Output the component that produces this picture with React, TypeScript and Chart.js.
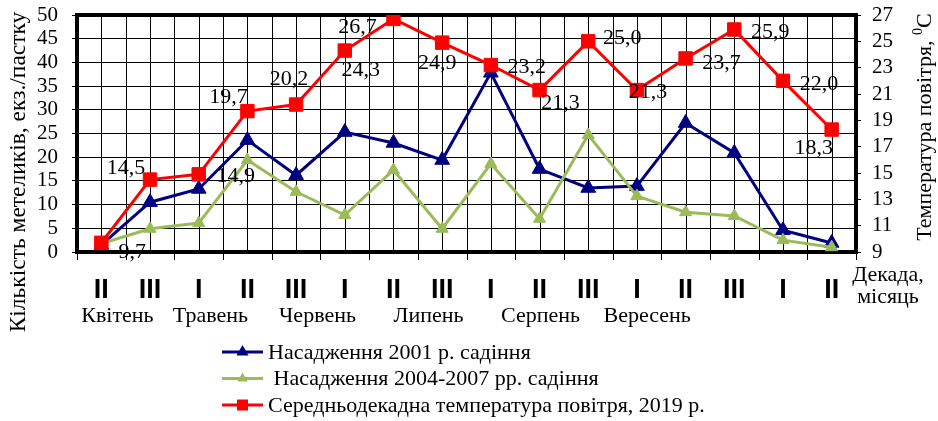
import React, { useEffect, useRef } from 'react';
import { Chart, registerables } from 'chart.js';

Chart.register(...registerables);

const decades = ['II', 'III', 'I', 'II', 'III', 'I', 'II', 'III', 'I', 'II', 'III', 'I', 'II', 'III', 'I', 'II'];
const months = ['Квітень', 'Травень', 'Червень', 'Липень', 'Серпень', 'Вересень'];
const monthPositions = [0.33, 2.24, 4.44, 6.72, 9.02, 11.21];

const plant2001 = [1.5, 10.5, 13.3, 23.6, 16.2, 25.3, 23.0, 19.4, 37.8, 17.5, 13.5, 13.9, 27.2, 20.9, 4.6, 1.9];
const plant2004 = [1.8, 4.9, 6.1, 19.4, 12.7, 7.8, 17.3, 4.9, 18.6, 7.0, 24.7, 11.8, 8.4, 7.6, 2.5, 1.0];
const temperature = [9.7, 14.5, 14.9, 19.7, 20.2, 24.3, 26.7, 24.9, 23.2, 21.3, 25.0, 21.3, 23.7, 25.9, 22.0, 18.3];

const seriesNames = [
  'Насадження 2001 р. садіння',
  ' Насадження 2004-2007 рр. садіння',
  'Середньодекадна температура повітря, 2019 р.',
];
const leftTitle = 'Кількість метеликів, екз./пастку';
const rightTitle = 'Температура повітря, ';
const xTitle = ['Декада,', 'місяць'];

// label placement offsets (px) relative to each temperature point
const tempLabelOffsets = [
  [31, 9], [-24, -11], [37, 2], [-19, -14], [-7, -25], [16, 20], [-36, 8], [-5, 21],
  [36, 2], [21, 13], [34, -3], [11, 2], [36, 5], [36, 3], [36, 3], [-18, 19],
];

const SERIF = '"Liberation Serif", "Times New Roman", serif';
const SANS = '"Liberation Sans", Arial, sans-serif';
const BLUE = '#000080';
const GREEN = '#9BBB59';
const RED = '#FF0000';

function fmt(v: number) {
  return v.toFixed(1).replace('.', ',');
}

function drawMarker(ctx: CanvasRenderingContext2D, style: string, x: number, y: number, r: number, color: string) {
  ctx.fillStyle = color;
  ctx.beginPath();
  if (style === 'triangle') {
    ctx.moveTo(x, y - r);
    ctx.lineTo(x + r * 0.866, y + r * 0.5);
    ctx.lineTo(x - r * 0.866, y + r * 0.5);
    ctx.closePath();
  } else {
    ctx.rect(x - r, y - r, 2 * r, 2 * r);
  }
  ctx.fill();
}

export default function App() {
  const ref = useRef<HTMLCanvasElement>(null);

  useEffect(() => {
    const canvas = ref.current!;

    const framePlugin = {
      id: 'frame',
      beforeDatasetsDraw(chart: any) {
        const { ctx, chartArea: a } = chart;
        const xs = chart.scales.x;
        ctx.save();
        ctx.strokeStyle = '#000';
        ctx.lineWidth = 1;
        for (let k = 0; k <= 32; k++) {
          const v = -0.5 + k * 0.5;
          const x = Math.round(xs.getPixelForValue(v)) + 0.5;
          ctx.beginPath();
          ctx.moveTo(x, a.top);
          ctx.lineTo(x, a.bottom);
          if (!Number.isInteger(v)) {
            ctx.moveTo(x, a.bottom);
            ctx.lineTo(x, a.bottom + 8);
          }
          ctx.stroke();
        }
        ctx.lineWidth = 4;
        ctx.strokeRect(a.left, a.top, a.right - a.left, a.bottom - a.top);
        ctx.restore();
      },
    };

    const labelsPlugin = {
      id: 'tempLabels',
      afterDatasetsDraw(chart: any) {
        const { ctx } = chart;
        const meta = chart.getDatasetMeta(2);
        ctx.save();
        ctx.font = `22px ${SERIF}`;
        ctx.fillStyle = '#000';
        ctx.textAlign = 'center';
        ctx.textBaseline = 'middle';
        meta.data.forEach((pt: any, i: number) => {
          const o = tempLabelOffsets[i];
          ctx.fillText(fmt(temperature[i]), pt.x + o[0], pt.y + o[1]);
        });
        ctx.restore();
      },
    };

    const decorPlugin = {
      id: 'decor',
      afterDraw(chart: any) {
        const { ctx } = chart;
        const xs = chart.scales.x;
        ctx.save();
        ctx.fillStyle = '#000';
        ctx.font = `22px ${SERIF}`;
        ctx.textBaseline = 'alphabetic';
        ctx.textAlign = 'center';
        months.forEach((m, i) => {
          ctx.fillText(m, xs.getPixelForValue(monthPositions[i]), 322);
        });
        // x axis title
        ctx.fillText(xTitle[0], 888, 281);
        ctx.fillText(xTitle[1], 888, 303);

        // left title
        ctx.save();
        ctx.translate(25, 172);
        ctx.rotate(-Math.PI / 2);
        ctx.font = `23.5px ${SERIF}`;
        ctx.textBaseline = 'alphabetic';
        ctx.fillText(leftTitle, 0, 0);
        ctx.restore();

        // right title with superscript
        ctx.save();
        ctx.translate(931, 127);
        ctx.rotate(-Math.PI / 2);
        ctx.textAlign = 'left';
        ctx.font = `22px ${SERIF}`;
        const w1 = ctx.measureText(rightTitle).width;
        ctx.font = `14px ${SERIF}`;
        const w2 = ctx.measureText('0').width;
        ctx.font = `22px ${SERIF}`;
        const w3 = ctx.measureText('C').width;
        const start = -(w1 + w2 + w3) / 2;
        ctx.fillText(rightTitle, start, 0);
        ctx.font = `14px ${SERIF}`;
        ctx.fillText('0', start + w1, -9);
        ctx.font = `22px ${SERIF}`;
        ctx.fillText('C', start + w1 + w2, 0);
        ctx.restore();

        // legend
        const colors = [BLUE, GREEN, RED];
        const styles = ['triangle', 'triangle', 'rect'];
        const sizes = [7, 6, 5.5];
        ctx.textAlign = 'left';
        ctx.textBaseline = 'middle';
        seriesNames.forEach((name, i) => {
          const y = 352 + i * 26.5;
          ctx.strokeStyle = colors[i];
          ctx.lineWidth = 3;
          ctx.beginPath();
          ctx.moveTo(222, y);
          ctx.lineTo(263, y);
          ctx.stroke();
          drawMarker(ctx, styles[i], 242.5, y, sizes[i], colors[i]);
          ctx.fillStyle = '#000';
          ctx.font = `22px ${SERIF}`;
          ctx.fillText(name, 268, y + 1);
        });
        ctx.restore();
      },
    };

    const chart = new Chart(canvas, {
      type: 'line',
      data: {
        datasets: [
          {
            label: seriesNames[0],
            data: plant2001.map((y, i) => ({ x: i, y })),
            yAxisID: 'y',
            borderColor: BLUE,
            backgroundColor: BLUE,
            pointBackgroundColor: BLUE,
            pointBorderColor: BLUE,
            pointStyle: 'triangle',
            pointRadius: 8.5,
            pointBorderWidth: 1,
            borderWidth: 3,
            tension: 0,
            order: 2,
          },
          {
            label: seriesNames[1],
            data: plant2004.map((y, i) => ({ x: i, y })),
            yAxisID: 'y',
            borderColor: GREEN,
            backgroundColor: GREEN,
            pointBackgroundColor: GREEN,
            pointBorderColor: GREEN,
            pointStyle: 'triangle',
            pointRadius: 7,
            pointBorderWidth: 1,
            borderWidth: 3,
            tension: 0,
            order: 1,
          },
          {
            label: seriesNames[2],
            data: temperature.map((y, i) => ({ x: i, y })),
            yAxisID: 'y1',
            borderColor: RED,
            backgroundColor: RED,
            pointBackgroundColor: RED,
            pointBorderColor: RED,
            pointStyle: 'rect',
            pointRadius: 9.5,
            pointBorderWidth: 1,
            borderWidth: 3,
            tension: 0,
            order: 0,
          },
        ],
      },
      options: {
        responsive: false,
        animation: false,
        devicePixelRatio: 1,
        layout: { padding: { top: 15, left: 0, right: 0, bottom: 0 } },
        plugins: {
          legend: { display: false },
          tooltip: { enabled: false },
        },
        scales: {
          x: {
            type: 'linear',
            min: -0.5,
            max: 15.5,
            afterBuildTicks: (s: any) => {
              s.ticks = decades.map((_, i) => ({ value: i }));
            },
            afterFit: (s: any) => {
              s.height = 169;
              s.paddingLeft = 0;
              s.paddingRight = 0;
            },
            ticks: {
              autoSkip: false,
              maxRotation: 0,
              minRotation: 0,
              padding: 14,
              color: '#000',
              font: { family: SANS, size: 27, weight: 'bold' },
              callback: (v: any) => (Number.isInteger(v) ? decades[v] : ''),
            },
            grid: { display: false },
            border: { display: false },
          },
          y: {
            position: 'left',
            min: 0,
            max: 50,
            afterFit: (s: any) => {
              s.width = 77;
              s.paddingTop = 0;
              s.paddingBottom = 0;
            },
            ticks: {
              stepSize: 5,
              autoSkip: false,
              padding: 14,
              color: '#000',
              font: { family: SERIF, size: 21 },
            },
            grid: { color: '#000', lineWidth: 1, tickLength: 5 },
            border: { display: false },
          },
          y1: {
            position: 'right',
            min: 9,
            max: 27,
            afterFit: (s: any) => {
              s.width = 82;
              s.paddingTop = 0;
              s.paddingBottom = 0;
            },
            ticks: {
              stepSize: 2,
              autoSkip: false,
              padding: 11,
              color: '#000',
              font: { family: SERIF, size: 21 },
            },
            grid: { drawOnChartArea: false, color: '#000', lineWidth: 1, tickLength: 5 },
            border: { display: false },
          },
        },
      } as any,
      plugins: [framePlugin, labelsPlugin, decorPlugin],
    });

    return () => chart.destroy();
  }, []);

  return (
    <div style={{ position: 'fixed', left: 0, top: 0, width: 938, height: 421, background: '#fff' }}>
      <canvas ref={ref} width={938} height={421} style={{ display: 'block', width: 938, height: 421 }} />
    </div>
  );
}
